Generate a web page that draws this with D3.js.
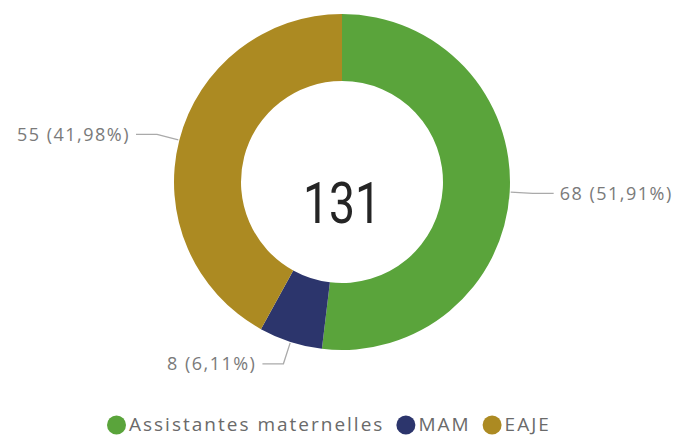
<!DOCTYPE html>
<html>
<head>
<meta charset="utf-8">
<script src="https://cdn.jsdelivr.net/npm/d3@7"></script>
<style>
  html, body { margin: 0; padding: 0; background: #fff; }
  #box { width: 679px; height: 438px; }
</style>
</head>
<body>
<div id="box"></div>
<script>
// data
const categories = ['Assistantes maternelles', 'MAM', 'EAJE'];
const values = [68, 8, 55];
const colors = ['#5aa43b', '#2c356c', '#ac8a22'];

const width = 679;
const height = 438;
const cx = 342;
const cy = 182;
const outerR = 168;
const innerR = 101;

const total = d3.sum(values);
const fmt = v => (v / total * 100).toFixed(2).replace('.', ',') + '%';

const svg = d3.select('#box').append('svg')
  .attr('width', width)
  .attr('height', height);

const pie = d3.pie().sort(null).value(d => d.value);
const arcs = pie(categories.map((c, i) => ({ cat: c, value: values[i], color: colors[i] })));

const arc = d3.arc().innerRadius(innerR).outerRadius(outerR);

const g = svg.append('g').attr('transform', `translate(${cx},${cy})`);

g.selectAll('.slice').data(arcs)
  .join('path')
  .attr('class', 'slice')
  .attr('d', arc)
  .attr('fill', d => d.data.color);

// leader lines + labels
const elbowR = 191;
const lineLen = 21;
const pt = (a, r) => [Math.sin(a) * r, -Math.cos(a) * r];

arcs.forEach(d => {
  const mid = (d.startAngle + d.endAngle) / 2;
  const p0 = pt(mid, outerR + 1);
  const p1 = pt(mid, elbowR);
  const side = p1[0] >= 0 ? 1 : -1;
  const p2 = [p1[0] + side * lineLen, p1[1]];
  g.append('polyline')
    .attr('points', [p0, p1, p2].map(p => p.join(',')).join(' '))
    .attr('fill', 'none')
    .attr('stroke', '#aaaaaa')
    .attr('stroke-width', 1.3);
  g.append('text')
    .attr('x', p2[0] + side * 6)
    .attr('y', p2[1])
    .attr('dy', '0.36em')
    .attr('text-anchor', side > 0 ? 'start' : 'end')
    .style('font-family', '"Open Sans", sans-serif')
    .style('font-size', '18px')
    .style('letter-spacing', '1.5px')
    .style('fill', '#7a7a7a')
    .text(`${d.data.value} (${fmt(d.data.value)})`);
});

// center total
g.append('text')
  .attr('x', 0)
  .attr('y', 41)
  .attr('text-anchor', 'middle')
  .attr('textLength', 78)
  .attr('lengthAdjust', 'spacingAndGlyphs')
  .style('font-family', 'Roboto, sans-serif')
  .style('font-size', '57px')
  .style('fill', '#252525')
  .text(total);

// legend
const legend = svg.append('g').attr('transform', 'translate(0,424)');
let lx = 107;
categories.forEach((c, i) => {
  legend.append('circle')
    .attr('cx', lx + 9.5)
    .attr('cy', 1)
    .attr('r', 9.5)
    .attr('fill', colors[i]);
  const t = legend.append('text')
    .attr('x', lx + 22)
    .attr('y', 0)
    .attr('dy', '0.36em')
    .style('font-family', '"Open Sans", sans-serif')
    .style('font-size', '19px')
    .style('letter-spacing', '2px')
    .style('fill', '#6a6a6a')
    .text(c);
  lx += 22 + t.node().getComputedTextLength() + 12;
});
</script>
</body>
</html>
